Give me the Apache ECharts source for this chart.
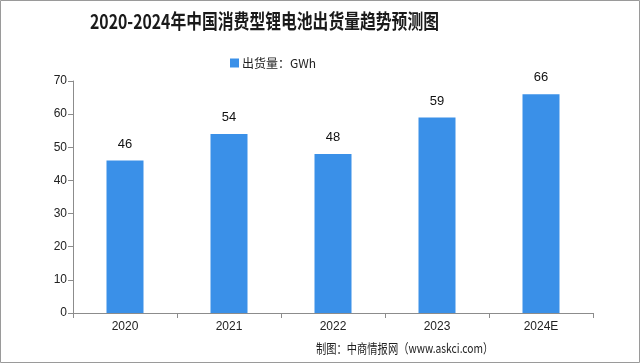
<!DOCTYPE html>
<html>
<head>
<meta charset="utf-8">
<script src="https://cdn.jsdelivr.net/npm/echarts@6/dist/echarts.min.js"></script>
<style>html,body{margin:0;padding:0;background:#fff;}#c{width:640px;height:363px;}</style>
</head>
<body>
<div id="c"></div>
<script>
const categories = ['2020', '2021', '2022', '2023', '2024E'];
const shipments = [46, 54, 48, 59, 66];
const yTicks = [0, 10, 20, 30, 40, 50, 60, 70];
const titleText = '2020-2024年中国消费型锂电池出货量趋势预测图';
const seriesName = '出货量：GWh';
const footerText = '制图：中商情报网（www.askci.com）';

const chart = echarts.init(document.getElementById('c'));
chart.setOption({
  backgroundColor: '#fff',
  animation: false,
  legend: {
    data: [seriesName],
    left: 225, top: 52,
    itemWidth: 9, itemHeight: 9, itemGap: 3,
    icon: 'rect',
    textStyle: { fontFamily: 'Noto Sans CJK SC', fontSize: 12, color: '#222', padding: [0,0,0,-2] }
  },
  grid: { left: 73, right: 47, top: 81, bottom: 50, containLabel: false },
  xAxis: {
    type: 'category',
    data: categories,
    axisLine: { lineStyle: { color: '#8c8c8c' } },
    axisTick: { show: true, length: 5, lineStyle: { color: '#8c8c8c' } },
    axisLabel: { fontFamily: 'Liberation Sans', fontSize: 12, color: '#222', margin: 8 }
  },
  yAxis: {
    type: 'value',
    min: yTicks[0], max: yTicks[yTicks.length - 1], interval: 10,
    axisLine: { show: true, lineStyle: { color: '#8c8c8c' } },
    axisTick: { show: true, length: 5, lineStyle: { color: '#8c8c8c' } },
    splitLine: { show: false },
    axisLabel: { fontFamily: 'Liberation Sans', fontSize: 12, color: '#222', margin: 6 }
  },
  series: [{
    name: seriesName,
    type: 'bar',
    data: shipments,
    barWidth: 37,
    itemStyle: { color: '#3a90e8' },
    label: { show: true, position: 'top', distance: 10, fontFamily: 'Liberation Sans', fontSize: 13, color: '#111' }
  }],
  graphic: [
    { type: 'text', x: 90, y: 11, scaleX: 0.79,
      style: { text: titleText, fontFamily: 'Noto Sans CJK SC', fontSize: 20, fontWeight: 'bold', fill: '#1a1a1a', textVerticalAlign: 'top' } },
    { type: 'text', x: 316, y: 342, scaleX: 0.79,
      style: { text: footerText, fontFamily: 'Noto Sans CJK SC', fontSize: 13, fill: '#222', textVerticalAlign: 'top' } },
    { type: 'rect', shape: { x: 0.5, y: 0.5, width: 639, height: 362 },
      style: { fill: 'none', stroke: '#9a9a9a', lineWidth: 1 } }
  ]
});
</script>
</body>
</html>
